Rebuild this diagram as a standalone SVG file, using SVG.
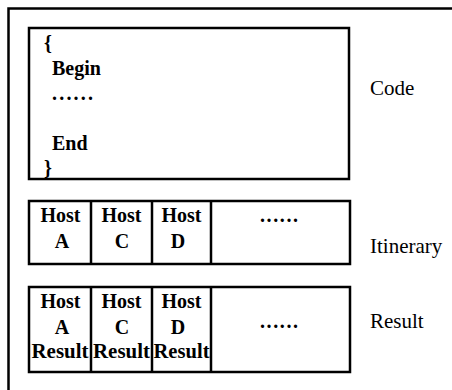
<svg xmlns="http://www.w3.org/2000/svg" width="452" height="390" viewBox="0 0 452 390">
<style>
.frame{fill:none;stroke:#000;stroke-width:2.5}
.box{fill:#fff;stroke:#000;stroke-width:2.5}
.div{stroke:#000;stroke-width:2.5}
.t{font-family:"Liberation Serif","Times New Roman",serif;font-size:20px;font-weight:bold;fill:#000}
.c{text-anchor:middle}
.lbl{font-family:"Liberation Serif","Times New Roman",serif;font-size:21px;fill:#000}
</style>
<rect width="452" height="390" fill="#fff"/>
<path class="frame" d="M8.5,390 V8.5 H452"/>
<g id="code">
<rect class="box" x="29" y="28" width="320" height="151"/>
<text class="t" x="44" y="50">{</text>
<text class="t" x="52" y="75">Begin</text>
<text class="t" x="52" y="100" textLength="41" lengthAdjust="spacing">......</text>
<text class="t" x="52" y="150">End</text>
<text class="t" x="44" y="175">}</text>
</g>
<g id="itinerary">
<rect class="box" x="29" y="201" width="321" height="63"/>
<line class="div" x1="91" y1="201" x2="91" y2="264"/>
<line class="div" x1="152" y1="201" x2="152" y2="264"/>
<line class="div" x1="211" y1="201" x2="211" y2="264"/>
<text class="t c" x="60.5" y="222">Host</text>
<text class="t c" x="62" y="248">A</text>
<text class="t c" x="121.5" y="222">Host</text>
<text class="t c" x="122" y="248">C</text>
<text class="t c" x="181.5" y="222">Host</text>
<text class="t c" x="178" y="248">D</text>
<text class="t c" x="279" y="222" textLength="38" lengthAdjust="spacing">......</text>
</g>
<g id="result">
<rect class="box" x="29" y="287" width="321" height="85"/>
<line class="div" x1="91" y1="287" x2="91" y2="372"/>
<line class="div" x1="152" y1="287" x2="152" y2="372"/>
<line class="div" x1="211" y1="287" x2="211" y2="372"/>
<text class="t c" x="60.5" y="308">Host</text>
<text class="t c" x="62" y="334">A</text>
<text class="t c" x="60" y="358" textLength="57" lengthAdjust="spacingAndGlyphs">Result</text>
<text class="t c" x="121.5" y="308">Host</text>
<text class="t c" x="122" y="334">C</text>
<text class="t c" x="121.5" y="358" textLength="57" lengthAdjust="spacingAndGlyphs">Result</text>
<text class="t c" x="181.5" y="308">Host</text>
<text class="t c" x="178" y="334">D</text>
<text class="t c" x="181.5" y="358" textLength="56" lengthAdjust="spacingAndGlyphs">Result</text>
<text class="t c" x="279" y="328" textLength="38" lengthAdjust="spacing">......</text>
</g>
<g id="labels">
<text class="lbl" x="370" y="95">Code</text>
<text class="lbl" x="370" y="253">Itinerary</text>
<text class="lbl" x="370" y="328">Result</text>
</g>
</svg>
